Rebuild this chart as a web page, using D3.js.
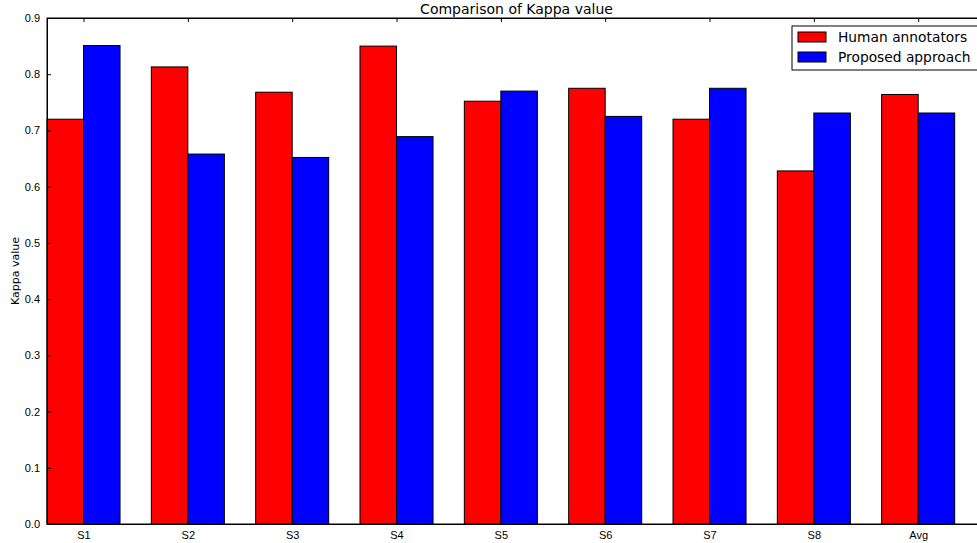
<!DOCTYPE html>
<html>
<head>
<meta charset="utf-8">
<script src="https://cdn.jsdelivr.net/npm/d3@7"></script>
<style>
  body { margin: 0; background: #fff; }
  svg { font-family: "DejaVu Sans", sans-serif; display: block; }
</style>
</head>
<body>
<div id="chart"></div>
<script>
// data
var categories = ["S1", "S2", "S3", "S4", "S5", "S6", "S7", "S8", "Avg"];
var human = [0.720, 0.813, 0.768, 0.850, 0.752, 0.775, 0.720, 0.628, 0.764];
var proposed = [0.851, 0.658, 0.652, 0.689, 0.770, 0.725, 0.775, 0.731, 0.731];
var seriesNames = ["Human annotators", "Proposed approach"];
var seriesColors = ["#ff0000", "#0000ff"];
var yTicks = [0.0, 0.1, 0.2, 0.3, 0.4, 0.5, 0.6, 0.7, 0.8, 0.9];

var width = 977, height = 543;
// plot runs a little past the right edge of the picture, like the original
var margin = {top: 18, left: 47, bottom: 19};
var plotRight = 986;
var barWidth = 0.35;

var svg = d3.select("#chart").append("svg")
    .attr("width", width)
    .attr("height", height);

var x = d3.scaleLinear()
    .domain([0, categories.length])
    .range([margin.left, plotRight]);

var y = d3.scaleLinear()
    .domain([0, 0.9])
    .range([height - margin.bottom, margin.top]);

// bars
var series = [human, proposed];
series.forEach(function (vals, s) {
    svg.selectAll(".bar" + s)
        .data(vals)
        .enter()
        .append("rect")
        .attr("x", function (d, i) { return x(i + s * barWidth); })
        .attr("width", x(barWidth) - x(0))
        .attr("y", function (d) { return y(d); })
        .attr("height", function (d) { return y(0) - y(d); })
        .attr("fill", seriesColors[s])
        .attr("stroke", "#000")
        .attr("stroke-width", 1);
});

// axes, matplotlib classic look: ticks pointing inward on all sides
var tickPos = categories.map(function (c, i) { return i + barWidth; });

var xAxis = svg.append("g")
    .attr("transform", "translate(0," + y(0) + ")")
    .call(d3.axisBottom(x).tickValues(tickPos)
        .tickFormat(function (d, i) { return categories[i]; })
        .tickSizeInner(-4).tickSizeOuter(0).tickPadding(7));

var xTop = svg.append("g")
    .attr("transform", "translate(0," + y(0.9) + ")")
    .call(d3.axisTop(x).tickValues(tickPos).tickFormat("")
        .tickSizeInner(-4).tickSizeOuter(0));

var yAxis = svg.append("g")
    .attr("transform", "translate(" + margin.left + ",0)")
    .call(d3.axisLeft(y).tickValues(yTicks).tickFormat(d3.format(".1f"))
        .tickSizeInner(-4).tickSizeOuter(0).tickPadding(7));

var yRight = svg.append("g")
    .attr("transform", "translate(" + plotRight + ",0)")
    .call(d3.axisRight(y).tickValues(yTicks).tickFormat("")
        .tickSizeInner(-4).tickSizeOuter(0));

svg.selectAll(".domain").attr("stroke", "#000");
svg.selectAll(".tick line").attr("stroke", "#000");
svg.selectAll(".tick text").attr("fill", "#000").style("font-size", "11px");

// frame
svg.append("rect")
    .attr("x", margin.left)
    .attr("y", y(0.9))
    .attr("width", plotRight - margin.left)
    .attr("height", y(0) - y(0.9))
    .attr("fill", "none")
    .attr("stroke", "#000")
    .attr("stroke-width", 1);

// title and y label
svg.append("text")
    .attr("x", (margin.left + plotRight) / 2)
    .attr("y", 14)
    .attr("text-anchor", "middle")
    .style("font-size", "14px")
    .text("Comparison of Kappa value");

svg.append("text")
    .attr("transform", "translate(19," + ((y(0) + y(0.9)) / 2) + ") rotate(-90)")
    .attr("text-anchor", "middle")
    .style("font-size", "11px")
    .text("Kappa value");

// legend
var legend = svg.append("g").attr("transform", "translate(792,26)");
legend.append("rect")
    .attr("width", 200).attr("height", 44)
    .attr("fill", "#fff").attr("stroke", "#000");
seriesNames.forEach(function (name, i) {
    legend.append("rect")
        .attr("x", 6).attr("y", 6 + i * 20)
        .attr("width", 28).attr("height", 10)
        .attr("fill", seriesColors[i]).attr("stroke", "#000");
    legend.append("text")
        .attr("x", 46).attr("y", 16 + i * 20)
        .style("font-size", "13.8px")
        .text(name);
});
</script>
</body>
</html>
